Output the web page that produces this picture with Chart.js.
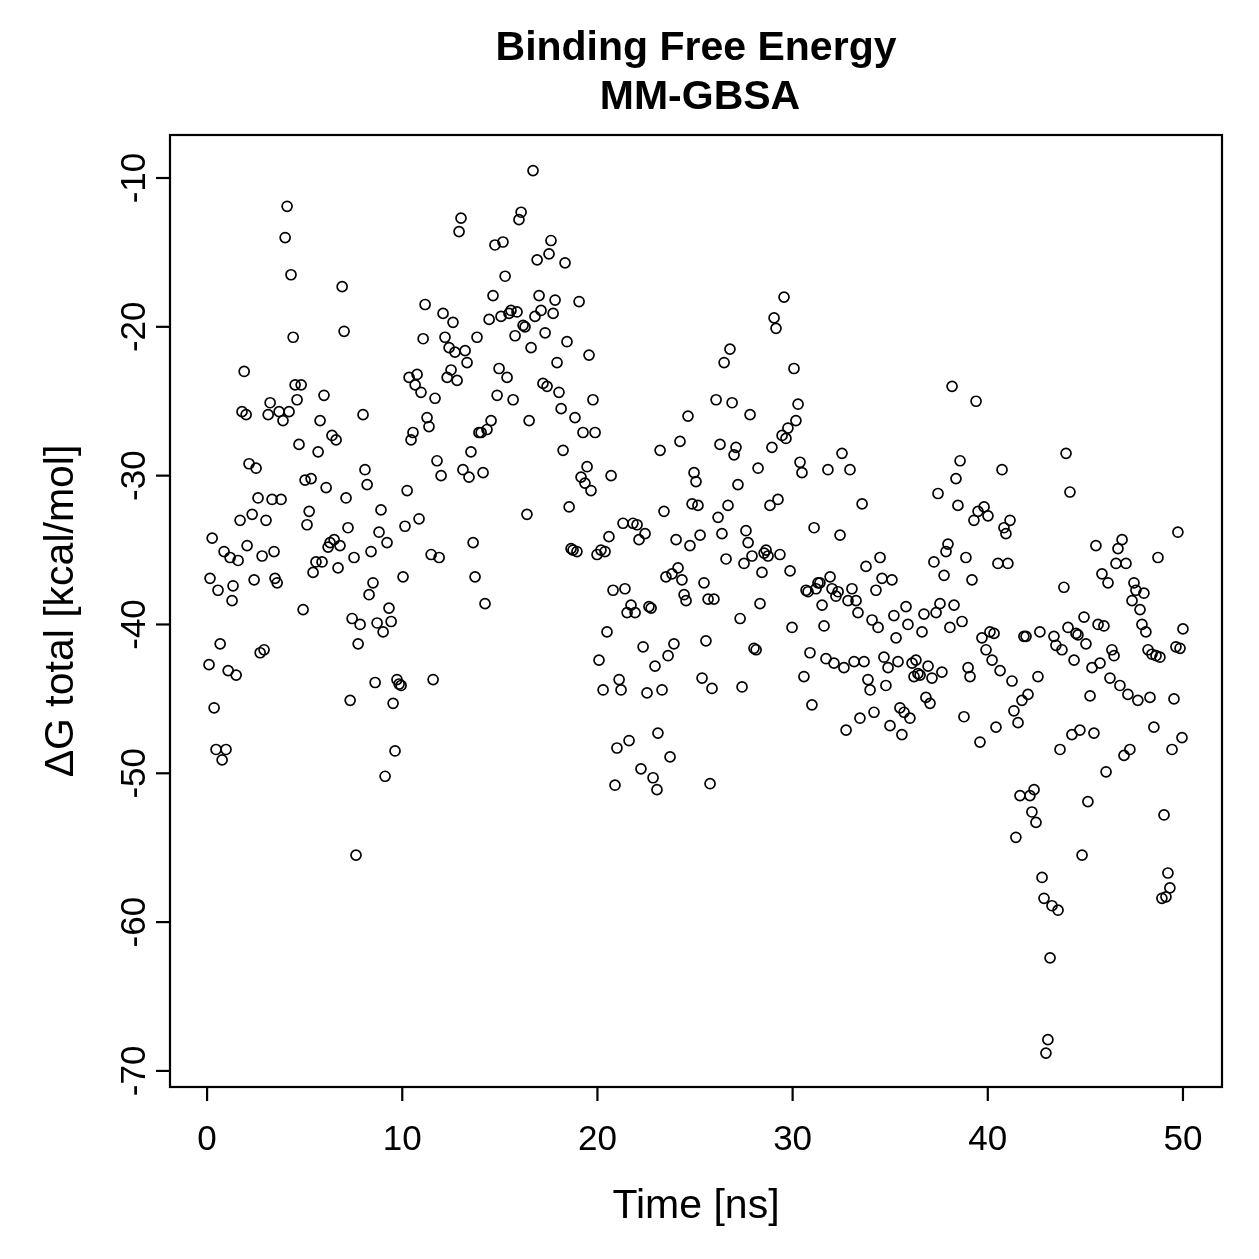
<!DOCTYPE html>
<html><head><meta charset="utf-8">
<script src="https://cdn.jsdelivr.net/npm/chart.js@4/dist/chart.umd.min.js"></script>
<style>html,body{margin:0;padding:0;background:#fff}#wrap{width:1259px;height:1259px;position:relative}</style>
</head><body><div id="wrap"><canvas id="c" width="1259" height="1259"></canvas></div>
<script>
const titleLines = ["Binding Free Energy", "MM-GBSA"];
const xLabel = "Time [ns]";
const yLabel = "\u0394G total [kcal/mol]";
const xTicks = [0, 10, 20, 30, 40, 50];
const yTicks = [-10, -20, -30, -40, -50, -60, -70];
const xRange = [-1.9, 52.0];
const yRange = [-71.08, -7.11];

const timeNs = [
0.10,0.15,0.26,0.36,0.46,0.56,0.67,0.77,0.87,0.97,1.08,1.18,1.28,1.33,1.49,1.59,1.69,1.79,1.90,2.00,
2.05,2.15,2.31,2.41,2.51,2.61,2.72,2.82,2.92,3.02,3.13,3.23,3.33,3.43,3.48,3.59,3.69,3.79,3.89,4.00,
4.10,4.20,4.30,4.41,4.51,4.61,4.71,4.82,4.92,5.02,5.12,5.23,5.33,5.43,5.58,5.69,5.79,5.89,5.99,6.10,
6.20,6.30,6.40,6.51,6.61,6.71,6.81,6.92,7.02,7.12,7.22,7.33,7.43,7.53,7.63,7.74,7.84,7.99,8.09,8.20,
8.30,8.40,8.50,8.61,8.71,8.81,8.91,9.02,9.12,9.22,9.32,9.43,9.53,9.63,9.73,9.84,9.94,10.04,10.14,10.25,
10.35,10.45,10.55,10.66,10.76,10.86,10.96,11.07,11.17,11.27,11.37,11.48,11.58,11.68,11.78,11.89,11.99,12.09,12.19,12.30,
12.40,12.50,12.60,12.70,12.81,12.91,13.01,13.11,13.22,13.32,13.42,13.52,13.63,13.73,13.83,13.93,14.04,14.14,14.24,14.34,
14.45,14.55,14.65,14.75,14.86,14.96,15.06,15.16,15.27,15.37,15.47,15.57,15.68,15.78,15.88,15.98,16.09,16.19,16.29,16.39,
16.50,16.60,16.70,16.80,16.91,17.01,17.11,17.21,17.32,17.42,17.52,17.62,17.73,17.83,17.93,18.03,18.14,18.24,18.34,18.44,
18.55,18.65,18.75,18.85,18.95,19.06,19.16,19.26,19.36,19.47,19.57,19.67,19.77,19.88,19.98,20.08,20.18,20.29,20.39,20.49,
20.59,20.70,20.80,20.90,21.00,21.11,21.21,21.31,21.41,21.52,21.62,21.72,21.82,21.93,22.03,22.13,22.23,22.34,22.44,22.54,
22.64,22.75,22.85,22.95,23.05,23.10,23.21,23.31,23.41,23.51,23.62,23.72,23.82,23.92,24.03,24.13,24.23,24.33,24.44,24.54,
24.64,24.74,24.85,24.95,25.05,25.15,25.26,25.36,25.46,25.56,25.67,25.77,25.87,25.97,26.08,26.18,26.28,26.38,26.49,26.59,
26.69,26.79,26.90,27.00,27.10,27.20,27.31,27.41,27.51,27.61,27.72,27.82,27.92,28.02,28.13,28.23,28.33,28.43,28.54,28.64,
28.74,28.84,28.94,29.05,29.15,29.25,29.35,29.46,29.56,29.66,29.76,29.87,29.97,30.07,30.17,30.28,30.38,30.48,30.58,30.69,
30.79,30.89,30.99,31.10,31.20,31.30,31.40,31.51,31.61,31.71,31.81,31.92,32.02,32.12,32.22,32.33,32.43,32.53,32.63,32.74,
32.84,32.94,33.04,33.15,33.25,33.35,33.45,33.56,33.66,33.76,33.86,33.97,34.07,34.17,34.27,34.38,34.48,34.58,34.68,34.78,
34.89,34.99,35.09,35.19,35.30,35.40,35.50,35.60,35.71,35.81,35.91,36.01,36.12,36.22,36.32,36.42,36.53,36.63,36.73,36.83,
36.94,37.04,37.14,37.24,37.35,37.45,37.55,37.65,37.76,37.86,37.96,38.06,38.17,38.27,38.37,38.47,38.58,38.68,38.78,38.88,
38.99,39.09,39.19,39.29,39.40,39.50,39.60,39.70,39.81,39.91,40.01,40.11,40.22,40.32,40.42,40.52,40.63,40.73,40.83,40.93,
41.03,41.14,41.24,41.34,41.44,41.55,41.65,41.75,41.85,41.96,42.06,42.16,42.26,42.37,42.47,42.57,42.67,42.78,42.88,42.98,
43.08,43.19,43.29,43.39,43.49,43.60,43.70,43.80,43.90,44.01,44.11,44.21,44.31,44.42,44.52,44.62,44.72,44.83,44.93,45.03,
45.13,45.24,45.34,45.44,45.54,45.65,45.75,45.85,45.95,46.06,46.16,46.26,46.36,46.47,46.57,46.67,46.77,46.88,46.98,47.08,
47.18,47.28,47.39,47.49,47.59,47.69,47.80,47.90,48.00,48.10,48.21,48.31,48.41,48.51,48.62,48.72,48.82,48.92,49.03,49.13,
49.23,49.33,49.44,49.54,49.64,49.74,49.85,49.95,50.00
];

const deltaG = [
-42.7,-36.9,-34.2,-45.6,-48.4,-37.7,-41.3,-49.1,-35.1,-48.4,-43.1,-35.5,-38.4,-37.4,-43.4,-35.7,-33.0,-25.7,-23.0,-25.9,
-34.7,-29.2,-32.6,-37.0,-29.5,-31.5,-41.9,-35.4,-41.7,-33.0,-25.9,-25.1,-31.6,-35.1,-36.9,-37.2,-25.7,-31.6,-26.3,-14.0,
-11.9,-25.7,-16.5,-20.7,-23.9,-24.9,-27.9,-23.9,-39.0,-30.3,-33.3,-32.4,-30.2,-36.5,-35.8,-28.4,-26.3,-35.8,-24.6,-30.8,
-34.8,-34.5,-27.3,-34.3,-27.6,-36.2,-34.7,-17.3,-20.3,-31.5,-33.5,-45.1,-39.6,-35.5,-55.5,-41.3,-40.0,-25.9,-29.6,-30.6,
-38.0,-35.1,-37.2,-43.9,-39.9,-33.8,-32.3,-40.5,-50.2,-34.5,-38.9,-39.8,-45.3,-48.5,-43.7,-44.0,-44.1,-36.8,-33.4,-31.0,
-23.4,-27.6,-27.1,-23.9,-23.2,-32.9,-24.4,-20.8,-18.5,-26.1,-26.7,-35.3,-43.7,-24.8,-29.0,-35.5,-30.0,-19.1,-20.7,-23.4,
-21.4,-22.9,-19.7,-21.7,-23.6,-13.6,-12.7,-29.6,-21.6,-22.4,-30.1,-28.4,-34.5,-36.8,-20.7,-27.1,-27.1,-29.8,-38.6,-26.9,
-19.5,-26.3,-17.9,-14.5,-24.6,-22.8,-19.3,-14.3,-16.6,-23.4,-19.1,-18.9,-24.9,-20.6,-19.0,-12.8,-12.3,-19.9,-20.0,-32.6,
-26.3,-21.4,-9.5,-19.3,-15.5,-17.9,-18.9,-23.8,-20.4,-24.0,-15.1,-14.2,-19.1,-18.2,-22.4,-24.4,-25.5,-28.3,-15.7,-21.0,
-32.1,-34.9,-35.0,-26.1,-35.1,-18.3,-30.1,-27.1,-30.5,-29.4,-21.9,-31.0,-24.9,-27.1,-35.3,-42.4,-35.0,-44.4,-35.1,-40.5,
-34.1,-30.0,-37.7,-50.8,-48.3,-43.7,-44.4,-33.2,-37.6,-39.2,-47.8,-38.7,-33.2,-39.2,-33.3,-34.3,-49.7,-41.5,-33.9,-44.6,
-38.8,-38.9,-50.3,-42.8,-51.1,-47.3,-28.3,-44.4,-32.4,-36.8,-42.1,-48.9,-36.6,-41.3,-34.3,-36.2,-27.7,-37.0,-38.0,-38.4,
-26.0,-34.7,-31.9,-29.8,-30.4,-32.0,-34.0,-43.6,-37.2,-41.1,-38.3,-50.7,-44.3,-38.3,-24.9,-32.8,-27.9,-33.9,-22.4,-35.6,
-32.0,-21.5,-25.1,-28.6,-28.1,-30.6,-39.6,-44.2,-35.9,-33.7,-34.5,-25.9,-35.4,-41.6,-41.7,-29.5,-38.6,-36.5,-35.2,-35.0,
-35.4,-32.0,-28.1,-19.4,-20.1,-31.6,-35.3,-27.3,-18.0,-27.5,-26.8,-36.4,-40.2,-22.8,-26.3,-25.2,-29.1,-29.8,-43.5,-37.7,
-37.8,-41.9,-45.4,-33.5,-37.6,-37.2,-37.2,-38.7,-40.1,-42.3,-29.6,-36.8,-37.6,-42.6,-38.1,-37.8,-34.0,-28.5,-42.9,-47.1,
-38.4,-29.6,-37.6,-42.5,-38.4,-39.2,-46.3,-31.9,-42.5,-36.1,-43.7,-44.4,-39.7,-45.9,-37.7,-40.2,-35.5,-36.9,-42.2,-44.1,
-42.9,-46.8,-37.0,-39.4,-40.9,-42.5,-45.6,-47.4,-45.9,-38.8,-40.0,-46.3,-42.6,-43.5,-42.4,-43.3,-43.4,-40.5,-39.3,-44.9,
-42.8,-45.3,-43.6,-35.8,-39.2,-31.2,-38.6,-43.2,-36.7,-35.1,-34.6,-40.2,-24.0,-38.7,-30.2,-32.0,-29.0,-39.8,-46.2,-35.5,
-42.9,-43.5,-37.0,-33.0,-25.0,-32.4,-47.9,-40.9,-32.1,-41.7,-32.7,-40.5,-42.4,-40.6,-46.9,-35.9,-43.1,-29.6,-33.5,-33.9,
-35.9,-33.0,-43.8,-45.8,-54.3,-46.6,-51.5,-45.1,-40.8,-40.8,-44.7,-51.5,-52.6,-51.1,-53.3,-43.5,-40.5,-57.0,-58.4,-68.8,
-67.9,-62.4,-58.9,-40.8,-41.4,-59.2,-48.4,-41.7,-37.5,-28.5,-40.2,-31.1,-47.4,-42.4,-40.6,-40.7,-47.1,-55.5,-39.5,-41.3,
-51.9,-44.8,-42.9,-47.3,-34.7,-40.0,-42.6,-36.6,-40.1,-49.9,-37.2,-43.6,-41.7,-42.1,-35.9,-34.9,-44.1,-34.3,-48.8,-35.9,
-44.7,-48.4,-38.4,-37.2,-37.7,-45.1,-39.0,-40.0,-37.9,-40.5,-41.7,-44.9,-42.0,-46.9,-42.1,-35.5,-42.2,-58.4,-52.8,-58.3,
-56.7,-57.7,-48.4,-45.0,-41.5,-33.8,-41.6,-47.6,-40.3
];

const FONT = '"Liberation Sans", Arial, Helvetica, sans-serif';

const rAxesPlugin = {
  id: 'rAxes',
  afterDraw(chart) {
    const ctx = chart.ctx;
    const xs = chart.scales.x, ys = chart.scales.y;
    const a = chart.chartArea;
    ctx.save();
    ctx.strokeStyle = '#000';
    ctx.fillStyle = '#000';
    ctx.lineWidth = 2.2;
    ctx.strokeRect(a.left, a.top, a.right - a.left, a.bottom - a.top);
    ctx.font = '35px ' + FONT;
    ctx.textAlign = 'center';
    ctx.textBaseline = 'alphabetic';
    xTicks.forEach(v => {
      const px = xs.getPixelForValue(v);
      ctx.beginPath(); ctx.moveTo(px, a.bottom); ctx.lineTo(px, a.bottom + 14); ctx.stroke();
      ctx.fillText(String(v), px, a.bottom + 63);
    });
    yTicks.forEach(v => {
      const py = ys.getPixelForValue(v);
      ctx.beginPath(); ctx.moveTo(a.left, py); ctx.lineTo(a.left - 14, py); ctx.stroke();
      ctx.save();
      ctx.translate(a.left - 25, py);
      ctx.rotate(-Math.PI / 2);
      ctx.textAlign = 'center';
      ctx.fillText(String(v), 0, 0);
      ctx.restore();
    });
    const cx = (a.left + a.right) / 2, cy = (a.top + a.bottom) / 2;
    ctx.font = '41px ' + FONT;
    ctx.textAlign = 'center';
    ctx.fillText(xLabel, cx, a.bottom + 131);
    ctx.save();
    ctx.translate(73, cy);
    ctx.rotate(-Math.PI / 2);
    ctx.fillText(yLabel, 0, 0);
    ctx.restore();
    ctx.font = 'bold 41px ' + FONT;
    ctx.fillText(titleLines[0], cx, 60);
    ctx.fillText(titleLines[1], cx + 4, 109);
    ctx.restore();
  }
};

new Chart(document.getElementById('c'), {
  type: 'scatter',
  data: {
    datasets: [{
      data: timeNs.map((t, i) => ({ x: t, y: deltaG[i] })),
      pointStyle: 'circle',
      pointRadius: 5,
      pointHoverRadius: 5,
      borderColor: '#000',
      backgroundColor: 'rgba(0,0,0,0)',
      borderWidth: 1.7
    }]
  },
  options: {
    responsive: false,
    animation: false,
    events: [],
    layout: { padding: { left: 170, right: 37, top: 135, bottom: 172 } },
    plugins: { legend: { display: false }, tooltip: { enabled: false }, title: { display: false } },
    scales: {
      x: { type: 'linear', display: false, min: xRange[0], max: xRange[1] },
      y: { type: 'linear', display: false, min: yRange[0], max: yRange[1] }
    }
  },
  plugins: [rAxesPlugin]
});
</script>
</body></html>
